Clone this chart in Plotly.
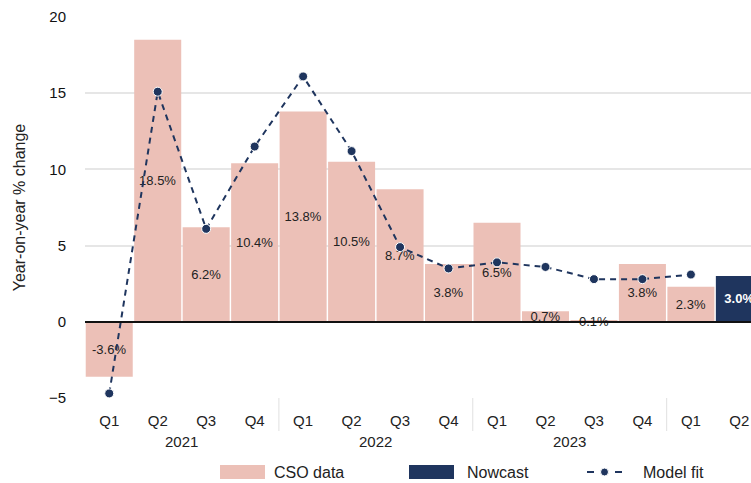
import plotly.graph_objects as go

# ---- data ----
quarters = ["Q1", "Q2", "Q3", "Q4", "Q1", "Q2", "Q3", "Q4", "Q1", "Q2", "Q3", "Q4", "Q1", "Q2"]
years = ["2021"] * 4 + ["2022"] * 4 + ["2023"] * 4 + [""] * 2
cso_data = [-3.6, 18.5, 6.2, 10.4, 13.8, 10.5, 8.7, 3.8, 6.5, 0.7, 0.1, 3.8, 2.3, None]
nowcast = [None] * 13 + [3.0]
model_fit = [-4.7, 15.1, 6.1, 11.5, 16.1, 11.2, 4.9, 3.5, 3.9, 3.6, 2.8, 2.8, 3.1, None]
y_ticks = [-5, 0, 5, 10, 15, 20]

PINK = "#ecc0b7"
NAVY = "#1f355e"
FONT = "Liberation Sans, Arial, sans-serif"

W, H = 751, 483
ML, MR, MT, MB = 85, 0, 17, 85

idx = list(range(len(quarters)))

fig = go.Figure()
fig.add_trace(go.Bar(
    x=idx, y=cso_data, name="CSO data", marker=dict(color=PINK, line=dict(width=0)),
    text=[f"{v:.1f}%" if v is not None else "" for v in cso_data],
    textposition="inside", insidetextanchor="middle", constraintext="none",
    textfont=dict(size=13, color="#222222", family=FONT), showlegend=False,
))
fig.add_trace(go.Bar(
    x=idx, y=nowcast, name="Nowcast", marker=dict(color=NAVY, line=dict(width=0)),
    text=[f"<b>{v:.1f}%</b>" if v is not None else "" for v in nowcast],
    textposition="inside", insidetextanchor="middle", constraintext="none",
    textfont=dict(size=13, color="white", family=FONT), showlegend=False,
))
fig.add_trace(go.Scatter(
    x=idx, y=model_fit, name="Model fit", mode="lines+markers",
    line=dict(color=NAVY, width=2, dash="6px,5px"),
    marker=dict(color=NAVY, size=9, line=dict(color="white", width=1)),
    showlegend=False, connectgaps=False,
))

pw = W - ML - MR
ph = H - MT - MB


def px(v):
    return (v - ML) / pw


def py(v):
    return (H - MB - v) / ph


shapes = []
annotations = []

# year group labels and dividers (derived from the years list)
groups = []
for i, yr in enumerate(years):
    if not groups or groups[-1][0] != yr:
        groups.append([yr, i, i])
    else:
        groups[-1][2] = i
for gi, (yr, a, b) in enumerate(groups):
    if yr:
        annotations.append(dict(xref="x", yref="paper", x=(a + b) / 2, y=py(441), text=yr, showarrow=False,
                                xanchor="center", yanchor="middle",
                                font=dict(size=15, color="#222222", family=FONT)))
    if gi > 0:
        shapes.append(dict(type="line", xref="x", yref="paper", x0=a - 0.5, x1=a - 0.5, y0=py(398), y1=py(431),
                           line=dict(color="#e0e0e0", width=1)))

ly = 472
# CSO data legend
shapes.append(dict(type="rect", xref="paper", yref="paper", x0=px(220), x1=px(265), y0=py(479), y1=py(465),
                   fillcolor=PINK, line=dict(width=0)))
annotations.append(dict(xref="paper", yref="paper", x=px(272), y=py(ly), text="CSO data", showarrow=False,
                        xanchor="left", yanchor="middle", font=dict(size=16, color="#222222", family=FONT)))
# Nowcast legend
shapes.append(dict(type="rect", xref="paper", yref="paper", x0=px(409), x1=px(454), y0=py(479), y1=py(465),
                   fillcolor=NAVY, line=dict(width=0)))
annotations.append(dict(xref="paper", yref="paper", x=px(465), y=py(ly), text="Nowcast", showarrow=False,
                        xanchor="left", yanchor="middle", font=dict(size=16, color="#222222", family=FONT)))
# Model fit legend
for a, b in [(587, 594), (615, 622)]:
    shapes.append(dict(type="line", xref="paper", yref="paper", x0=px(a), x1=px(b), y0=py(ly), y1=py(ly),
                       line=dict(color=NAVY, width=2)))
shapes.append(dict(type="circle", xref="paper", yref="paper", x0=px(600.5), x1=px(608.5), y0=py(ly + 4), y1=py(ly - 4),
                   fillcolor=NAVY, line=dict(color="white", width=1)))
annotations.append(dict(xref="paper", yref="paper", x=px(641), y=py(ly), text="Model fit", showarrow=False,
                        xanchor="left", yanchor="middle", font=dict(size=16, color="#222222", family=FONT)))

fig.update_layout(
    width=W, height=H,
    margin=dict(l=ML, r=MR, t=MT, b=MB, autoexpand=False),
    paper_bgcolor="white", plot_bgcolor="white",
    barmode="overlay", bargap=0.03,
    font=dict(family=FONT, size=15, color="#222222"),
    showlegend=False,
    shapes=shapes, annotations=annotations,
)
fig.update_xaxes(
    range=[-0.5, 13.24], tickvals=idx, ticktext=quarters,
    showgrid=False, showline=False, zeroline=False,
    ticks="", ticklabelstandoff=12,
    tickfont=dict(size=15, color="#222222", family=FONT),
)
fig.update_yaxes(
    range=[-5, 20], tickvals=y_ticks,
    showgrid=True, gridcolor="#e6e6e6", gridwidth=1.5,
    zeroline=True, zerolinecolor="#111111", zerolinewidth=2, zerolinelayer="above traces",
    showline=False, ticks="outside", ticklen=15, tickcolor="rgba(0,0,0,0)",
    tickfont=dict(size=15, color="#111111", family=FONT),
    title=dict(text="Year-on-year % change", font=dict(size=16, color="#222222", family=FONT), standoff=19),
)

fig.write_html(
    "out.html",
    config={"displayModeBar": False},
    post_script="document.body.style.margin='0px';document.body.style.overflow='hidden';",
)
